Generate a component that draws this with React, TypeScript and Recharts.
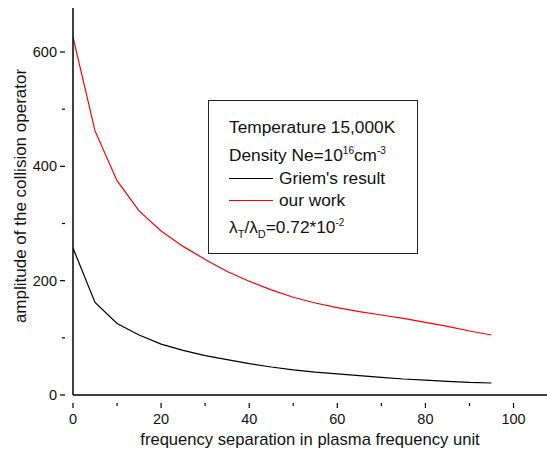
import React from 'react';
import { LineChart, Line, XAxis, YAxis, Label } from 'recharts';

// frequency separation (plasma frequency units)
const separation = [0, 5, 10, 15, 20, 25, 30, 35, 40, 45, 50, 55, 60, 65, 70, 75, 80, 85, 90, 95];
const griem = [257, 162, 125, 105, 89, 78, 69, 62, 55, 49, 44, 40, 37, 34, 31, 28, 26, 24, 22, 21];
const ourWork = [626, 462, 375, 322, 287, 260, 237, 216, 199, 184, 171, 161, 153, 146, 140, 134, 127, 120, 112, 105];

const xTicks = [0, 10, 20, 30, 40, 50, 60, 70, 80, 90, 100];
const yTicks = [0, 100, 200, 300, 400, 500, 600];

const FONT = '"Liberation Sans", Arial, Helvetica, sans-serif';

const data = separation.map((x, i) => ({ x, griem: griem[i], ours: ourWork[i] }));

const XTick = (props: any) => {
  const { x, y, payload } = props;
  const major = payload.value % 20 === 0;
  return (
    <g>
      <line x1={x} x2={x} y1={y} y2={y + (major ? 5 : 3)} stroke="#000" strokeWidth={1.2} />
      {major && (
        <text x={x} y={y + 21} textAnchor="middle" fontSize={14.5} fontFamily={FONT} fill="#111">
          {payload.value}
        </text>
      )}
    </g>
  );
};

const YTick = (props: any) => {
  const { x, y, payload } = props;
  const major = payload.value % 200 === 0;
  return (
    <g>
      <line x1={x} x2={x - (major ? 5 : 3)} y1={y} y2={y} stroke="#000" strokeWidth={1.2} />
      {major && (
        <text x={x - 8} y={y + 5} textAnchor="end" fontSize={14.5} fontFamily={FONT} fill="#111">
          {payload.value}
        </text>
      )}
    </g>
  );
};

const YTitle = () => (
  <text
    x={0}
    y={0}
    transform="translate(26, 196) rotate(-90)"
    textAnchor="middle"
    fontSize={17}
    fontFamily={FONT}
    fill="#111"
  >
    amplitude of the collision operator
  </text>
);

const sup = { fontSize: 10, verticalAlign: 7 };
const sub = { fontSize: 11, verticalAlign: -5 };

const LegendBox = () => (
  <div
    style={{
      position: 'absolute',
      left: 208,
      top: 100,
      width: 210,
      height: 154,
      border: '1.5px solid #222',
      boxSizing: 'border-box',
      background: '#fff',
      fontFamily: FONT,
      fontSize: 17.3,
      color: '#111',
      padding: '14px 0 0 20px',
      lineHeight: '24px',
    }}
  >
    <div>Temperature 15,000K</div>
    <div>
      Density Ne=10<sup style={sup}>16</sup>cm<sup style={sup}>-3</sup>
    </div>
    <div style={{ display: 'flex', alignItems: 'center', height: 22 }}>
      <span style={{ display: 'inline-block', width: 44, borderTop: '1.2px solid #000', marginRight: 6 }} />
      Griem's result
    </div>
    <div style={{ display: 'flex', alignItems: 'center', height: 22 }}>
      <span style={{ display: 'inline-block', width: 44, borderTop: '1.2px solid #ff0000', marginRight: 6 }} />
      our work
    </div>
    <div>
      λ<sub style={sub}>T</sub>/λ<sub style={sub}>D</sub>=0.72*10<sup style={sup}>-2</sup>
    </div>
  </div>
);

export default function App() {
  return (
    <div style={{ position: 'absolute', left: 0, top: 0, width: 547, height: 455, overflow: 'hidden', background: '#fff' }}>
      <LineChart width={547} height={455} data={data} margin={{ top: 8, right: 0, left: 0, bottom: 0 }}>
        <XAxis
          dataKey="x"
          type="number"
          domain={[0, 107.6]}
          ticks={xTicks}
          allowDataOverflow
          height={60}
          tickLine={false}
          tick={<XTick />}
          axisLine={{ stroke: '#000', strokeWidth: 1.5 }}
        >
          <Label
            value="frequency separation in plasma frequency unit"
            position="insideBottom"
            offset={10}
            style={{ fontFamily: FONT, fontSize: 16.6, fill: '#111' }}
          />
        </XAxis>
        <XAxis
          xAxisId="top"
          orientation="top"
          dataKey="x"
          type="number"
          domain={[0, 107.6]}
          height={0}
          tick={false}
          tickLine={false}
          axisLine={{ stroke: '#000', strokeWidth: 2 }}
        />
        <YAxis
          type="number"
          domain={[0, 677]}
          ticks={yTicks}
          allowDataOverflow
          width={73}
          tickLine={false}
          tick={<YTick />}
          axisLine={{ stroke: '#000', strokeWidth: 1.5 }}
        >
          <Label content={<YTitle />} />
        </YAxis>
        <Line dataKey="griem" stroke="#000" strokeWidth={1.2} dot={false} isAnimationActive={false} />
        <Line dataKey="ours" stroke="#ff0000" strokeWidth={1.2} dot={false} isAnimationActive={false} />
      </LineChart>
      <LegendBox />
    </div>
  );
}
